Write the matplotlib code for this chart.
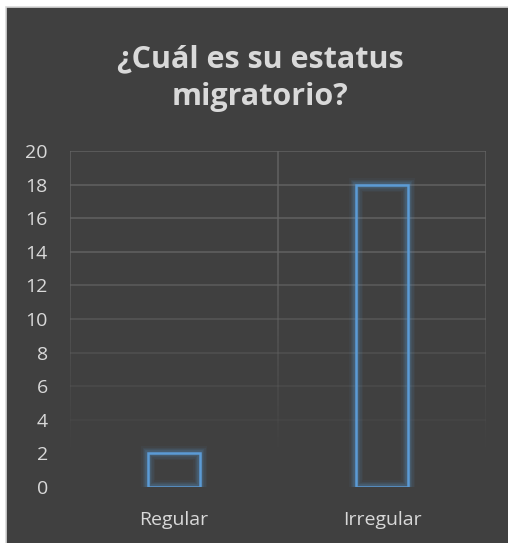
import numpy as np
import matplotlib
matplotlib.use("Agg")
import matplotlib.pyplot as plt
from matplotlib.patches import Rectangle
from matplotlib.collections import LineCollection

# data
categories = ["Regular", "Irregular"]
values = [2, 18]
yticks = list(range(0, 21, 2))
title = "¿Cuál es su estatus\nmigratorio?"

BG = "#404040"
TXT = "#d9d9d9"
BLUE = "#5b9bd5"

plt.rcParams["font.family"] = ["Open Sans", "DejaVu Sans"]

fig = plt.figure(figsize=(5.08, 5.43), dpi=100)
fig.patch.set_facecolor("white")
# dark chart area with light border (left/top only visible)
fig.patches.append(Rectangle((6 / 508, -0.05), 1.1, 1.05 - 7 / 543, transform=fig.transFigure,
                             facecolor=BG, edgecolor="#d9d9d9", lw=1.2, zorder=-10))

ax = fig.add_axes([70 / 508, 1 - 487 / 543, 416 / 508, 336 / 543])
ax.set_zorder(5)
ax.set_facecolor("none")
x = np.arange(len(categories))
ax.set_xlim(-0.5, len(categories) - 0.5)
ax.set_ylim(0, 20)

# fading gridlines
def grid_color(v):
    a = np.clip((v - 2.0) / 12.0, 0, 1) * 0.75
    return (0.40, 0.40, 0.40, a)

segs, cols = [], []
for t in yticks[1:]:
    segs.append([(-0.5, t), (1.5, t)])
    cols.append(grid_color(t))
ax.add_collection(LineCollection(segs, colors=cols, linewidths=1.3, zorder=1))

ys = np.linspace(0, 20, 101)
vsegs, vcols = [], []
for xv in [-0.5, 0.5, 1.5]:
    for y0, y1 in zip(ys[:-1], ys[1:]):
        vsegs.append([(xv, y0), (xv, y1)])
        vcols.append(grid_color((y0 + y1) / 2))
ax.add_collection(LineCollection(vsegs, colors=vcols, linewidths=1.3, zorder=1))

# bars with glow
bw = 0.25
bars = ax.bar(x, values, width=bw, facecolor="none", edgecolor=BLUE, linewidth=1.8, zorder=4)
for b in bars:
    for lw, al in [(10, 0.05), (8, 0.07), (6, 0.1), (4, 0.16)]:
        ax.add_patch(Rectangle(b.get_xy(), b.get_width(), b.get_height(), facecolor="none",
                               edgecolor=BLUE, lw=lw, alpha=al, zorder=3))

for s in ax.spines.values():
    s.set_visible(False)
ax.set_xticks(x)
ax.set_xticklabels(categories)
ax.set_yticks(yticks)
ax.tick_params(axis="both", length=0, colors=TXT, labelsize=14)
ax.tick_params(axis="x", pad=17)
ax.tick_params(axis="y", pad=16)

fig.text(0.512, 1 - 78 / 543, title, ha="center", va="center", color=TXT,
         fontsize=22, fontweight="bold", linespacing=1.35)

fig.savefig("out.png", dpi=100, facecolor="white")
